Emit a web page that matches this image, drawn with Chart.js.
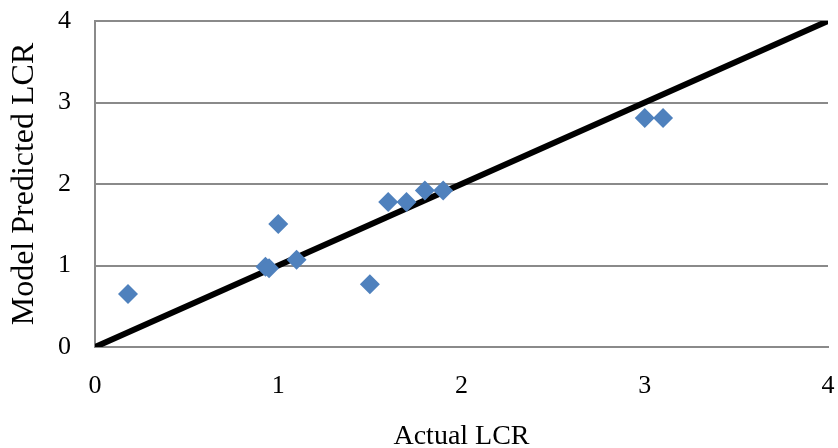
<!DOCTYPE html>
<html>
<head>
<meta charset="utf-8">
<script src="https://cdn.jsdelivr.net/npm/chart.js@4"></script>
<style>
  html, body { margin: 0; padding: 0; background: #fff; }
  #wrap { width: 838px; height: 448px; }
</style>
</head>
<body>
<div id="wrap"><canvas id="lcrChart" width="838" height="448"></canvas></div>
<script>
// measured vs. model predicted LCR
const actualLcr = [0.18, 0.93, 0.95, 1.0, 1.1, 1.5, 1.6, 1.7, 1.8, 1.9, 3.0, 3.1];
const predictedLcr = [0.65, 0.985, 0.965, 1.51, 1.07, 0.77, 1.78, 1.78, 1.92, 1.92, 2.81, 2.81];
// 1:1 reference line
const unityLine = [0, 4];
const axisTicks = [0, 1, 2, 3, 4];

const gridGray = '#8a8a8a';
const serif = "'Liberation Serif', 'Times New Roman', serif";

Chart.defaults.font.family = serif;
Chart.defaults.color = '#000';

const ctx = document.getElementById('lcrChart');

new Chart(ctx, {
    type: 'scatter',
    data: {
        datasets: [{
            label: 'LCR',
            data: actualLcr.map((x, i) => ({x: x, y: predictedLcr[i]})),
            pointStyle: 'rectRot',
            pointRadius: 10,
            pointHoverRadius: 10,
            backgroundColor: '#4F81BD',
            borderColor: '#4F81BD',
            borderWidth: 0
        }, {
            type: 'line',
            label: '1:1',
            data: unityLine.map(v => ({x: v, y: v})),
            borderColor: '#000',
            borderWidth: 6,
            pointRadius: 0,
            fill: false
        }]
    },
    options: {
        responsive: false,
        animation: false,
        layout: {
            padding: {top: 21, right: 10, left: 0, bottom: 0}
        },
        plugins: {
            legend: {display: false},
            tooltip: {enabled: false}
        },
        scales: {
            x: {
                type: 'linear',
                min: 0,
                max: 4,
                afterBuildTicks: (scale) => { scale.ticks = axisTicks.map(v => ({value: v})); },
                afterFit: (scale) => {
                    scale.height = 101;
                    scale.paddingLeft = 0;
                    scale.paddingRight = 0;
                },
                grid: {display: false, drawTicks: false},
                border: {display: true, color: gridGray, width: 2},
                ticks: {
                    padding: 24,
                    font: {size: 26, family: serif}
                },
                title: {
                    display: true,
                    text: 'Actual LCR',
                    font: {size: 28, family: serif, lineHeight: 0.8},
                    padding: 0
                }
            },
            y: {
                type: 'linear',
                min: 0,
                max: 4,
                afterBuildTicks: (scale) => { scale.ticks = axisTicks.map(v => ({value: v})); },
                afterFit: (scale) => {
                    scale.width = 95;
                    scale.paddingTop = 0;
                    scale.paddingBottom = 0;
                },
                grid: {color: gridGray, lineWidth: 2, drawTicks: false},
                border: {display: true, color: gridGray, width: 2},
                ticks: {
                    padding: 24,
                    font: {size: 26, family: serif}
                },
                title: {
                    display: true,
                    text: 'Model Predicted LCR',
                    font: {size: 32, family: serif, lineHeight: 1.2},
                    padding: {top: 5, bottom: 0}
                }
            }
        }
    }
});
</script>
</body>
</html>
